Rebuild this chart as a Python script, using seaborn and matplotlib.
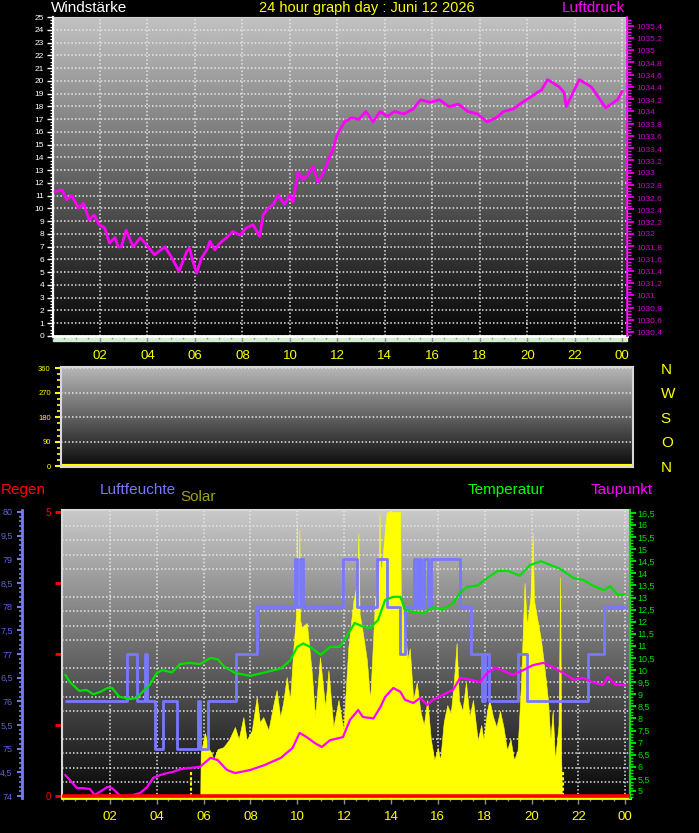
import numpy as np
import pandas as pd
import matplotlib
matplotlib.use('Agg')
import matplotlib.pyplot as plt
import seaborn as sns
from matplotlib import font_manager
from matplotlib.ticker import MultipleLocator, FixedLocator, FuncFormatter
from matplotlib.patches import Rectangle

# ===============================
# Data
# ===============================
pressure_hours = [0.1, 0.4, 0.6, 0.8, 1.1, 1.3, 1.55, 1.75, 1.97, 2.2, 2.4, 2.63, 2.77, 2.9,
                  3.1, 3.4, 3.7, 3.96, 4.3, 4.73, 5.0, 5.33, 5.65, 5.78, 5.9, 6.07, 6.28, 6.5,
                  6.63, 6.84, 7.05, 7.33, 7.6, 7.9, 8.17, 8.45, 8.73, 8.87, 9.08, 9.3, 9.5,
                  9.78, 10.0, 10.13, 10.34, 10.55, 10.76, 10.97, 11.18, 11.46, 11.67, 11.81,
                  12.0, 12.3, 12.6, 12.9, 13.2, 13.5, 13.8, 14.1, 14.4, 14.8, 15.2, 15.5,
                  15.9, 16.3, 16.7, 17.1, 17.5, 17.9, 18.3, 18.7, 19.0, 19.4, 19.8, 20.2,
                  20.5, 20.6, 20.85, 21.35, 21.55, 21.64, 22.19, 22.7, 23.3, 23.8, 24.0]
pressure_hpa = [1032.69, 1032.72, 1032.56, 1032.63, 1032.42, 1032.50, 1032.23, 1032.31,
                1032.15, 1032.10, 1031.85, 1031.94, 1031.79, 1031.79, 1032.06, 1031.79,
                1031.94, 1031.82, 1031.66, 1031.79, 1031.63, 1031.39, 1031.71, 1031.77,
                1031.57, 1031.36, 1031.61, 1031.74, 1031.88, 1031.74, 1031.85, 1031.94,
                1032.04, 1031.98, 1032.10, 1032.15, 1031.96, 1032.31, 1032.42, 1032.48,
                1032.63, 1032.48, 1032.64, 1032.52, 1033.00, 1032.89, 1032.96, 1033.10,
                1032.85, 1033.04, 1033.26, 1033.38, 1033.63, 1033.83, 1033.90, 1033.87,
                1034.00, 1033.83, 1034.00, 1033.92, 1034.00, 1033.96, 1034.04, 1034.19,
                1034.15, 1034.19, 1034.08, 1034.12, 1034.00, 1033.96, 1033.83, 1033.90,
                1034.00, 1034.04, 1034.15, 1034.25, 1034.33, 1034.35, 1034.52, 1034.40,
                1034.31, 1034.08, 1034.52, 1034.40, 1034.06, 1034.19, 1034.33]

wind_hours = [0.0, 24.2]
wind_dir_deg = [0, 0]
compass_labels = ['N', 'O', 'S', 'W', 'N']

hum_hours = [0.15, 2.75, 3.15, 3.5, 3.6, 3.93, 4.27, 4.85, 5.77, 5.85, 6.2, 7.4, 8.3, 9.9,
             10.0, 10.1, 10.25, 11.95, 12.55, 13.4, 13.85, 14.4, 14.6, 15.0, 15.1, 15.2,
             15.3, 15.4, 15.6, 15.7, 16.95, 17.4, 17.9, 18.0, 18.2, 19.4, 19.8, 22.4,
             23.1, 24.0]
hum_pct = [76, 77, 76, 77, 76, 75, 76, 75, 76, 75, 76, 77, 78, 79,
           78, 79, 78, 79, 78, 79, 78, 77, 78, 79, 78, 79,
           78, 79, 78, 79, 78, 77, 76, 77, 76, 77, 76, 77,
           78, 78]
hum_tick_labels = ['74', '4,5', '75', '5,5', '76', '6,5', '77', '7,5', '78', '8,5', '79', '9,5', '80']

temp_hours = [0.1, 0.3, 0.7, 1.0, 1.3, 1.6, 1.9, 2.1, 2.4, 2.85, 3.15, 3.4, 3.7, 4.0, 4.25,
              4.65, 5.0, 5.4, 5.85, 6.3, 6.6, 6.9, 7.35, 8.0, 8.6, 9.3, 9.7, 10.0, 10.25,
              10.55, 11.0, 11.4, 11.8, 12.1, 12.45, 12.8, 13.1, 13.45, 13.75, 14.1, 14.4,
              14.6, 14.95, 15.4, 15.8, 16.2, 16.65, 16.95, 17.25, 17.7, 18.1, 18.55, 19.0,
              19.5, 19.95, 20.4, 20.8, 21.2, 21.8, 22.2, 22.6, 23.1, 23.35, 23.7, 24.0]
temp_c = [9.8, 9.5, 9.14, 9.18, 9.0, 9.1, 9.26, 9.26, 8.9, 8.8, 8.85, 9.1, 9.38, 9.88, 10.0,
          9.9, 10.25, 10.3, 10.25, 10.5, 10.45, 10.13, 9.88, 9.76, 9.9, 10.07, 10.4, 10.96, 11.1,
          10.96, 10.63, 10.96, 10.96, 11.37, 11.95, 11.8, 11.74, 12.07, 12.9, 13.03, 13.03,
          12.5, 12.4, 12.35, 12.6, 12.5, 12.77, 13.2, 13.44, 13.5, 13.8, 14.1, 14.1,
          13.9, 14.35, 14.5, 14.35, 14.2, 13.8, 13.73, 13.5, 13.3, 13.47, 13.1, 13.13]

dew_hours = [0.1, 0.3, 0.6, 0.85, 1.15, 1.35, 1.7, 1.9, 2.1, 2.4, 2.7, 3.0, 3.3, 3.6, 3.85,
             4.15, 4.45, 4.7, 5.0, 5.4, 5.85, 6.3, 6.6, 7.0, 7.35, 8.0, 8.6, 9.3, 9.8, 10.1,
             10.4, 10.75, 11.05, 11.4, 11.95, 12.25, 12.6, 12.8, 13.25, 13.55, 13.75, 14.1,
             14.4, 14.6, 14.95, 15.25, 15.55, 15.8, 16.2, 16.65, 16.95, 17.4, 17.8, 18.1,
             18.45, 18.8, 19.2, 19.65, 20.05, 20.5, 20.9, 21.35, 21.8, 22.2, 22.6, 23.05,
             23.25, 23.6, 24.0]
dew_c = [5.66, 5.45, 5.12, 5.12, 5.08, 4.84, 5.04, 5.17, 5.12, 4.84, 4.71, 4.84, 4.92, 5.17, 5.54,
         5.66, 5.74, 5.79, 5.9, 5.95, 6.0, 6.37, 6.28, 5.87, 5.74, 5.87, 6.07, 6.37, 6.78, 7.4,
         7.23, 6.98, 6.82, 7.1, 7.23, 7.94, 8.35, 8.06, 8.0, 8.47, 8.89, 9.26,
         9.1, 8.77, 8.64, 8.85, 8.56, 8.77, 8.97, 9.18, 9.68, 9.6, 9.5, 9.88,
         10.1, 9.97, 9.8, 10.0, 10.2, 10.3, 10.13, 9.88, 9.6, 9.68, 9.5, 9.38,
         9.72, 9.38, 9.38]

solar_hours = [5.86, 5.88, 6.06, 6.2, 6.35, 6.42, 6.6, 6.85, 7.1, 7.34, 7.5, 7.7, 7.84, 8.06,
               8.27, 8.4, 8.55, 8.77, 9.0, 9.12, 9.27, 9.4, 9.55, 9.69, 9.84, 9.95, 9.98,
               10.01, 10.05, 10.09, 10.12, 10.19, 10.41, 10.62, 10.76, 10.97, 11.19, 11.33,
               11.54, 11.76, 11.97, 12.18, 12.4, 12.55, 12.61, 12.66, 12.76, 12.97, 13.11,
               13.32, 13.48, 13.51, 13.55, 13.61, 13.75, 13.82, 14.35, 14.39, 14.42, 14.5,
               14.6, 14.7, 14.8, 14.95, 15.1, 15.25, 15.4, 15.55, 15.7, 15.85, 16.0, 16.1,
               16.25, 16.4, 16.55, 16.7, 16.8, 16.9, 17.05, 17.2, 17.35, 17.5, 17.7, 17.85,
               17.95, 18.1, 18.2, 18.35, 18.5, 18.65, 18.8, 18.95, 19.1, 19.25, 19.4, 19.55,
               19.7, 19.8, 19.95, 20.05, 20.1, 20.25, 20.4, 20.55, 20.7, 20.8, 20.9, 21.0,
               21.15, 21.22, 21.26, 21.29, 21.3]
solar_wm2 = [0, 151, 222, 170, 150, 127, 165, 172, 200, 243, 200, 278, 197, 230,
             349, 260, 278, 232, 330, 373, 278, 330, 419, 338, 525, 640, 961,
             690, 690, 937, 620, 595, 609, 433, 278, 489, 313, 443,
             243, 338, 232, 525, 690, 750, 926, 640, 595, 479, 338,
             690, 800, 996, 806, 806, 950, 1000, 1000, 1000, 690, 655,
             595, 480, 520, 338, 400, 300, 250, 338, 200, 127, 170, 127,
             260, 320, 290, 420, 539, 338, 300, 400, 280, 338, 197, 250,
             197, 300, 338, 280, 243, 300, 243, 162, 200, 127, 160, 400,
             750, 600, 700, 926, 690, 620, 550, 450, 338, 197, 300, 127,
             250, 771, 150, 10, 0]
sun_times = [5.45, 21.35]

rain_hours = [0.0, 24.2]
rain_mm = [0.0, 0.0]

hour_ticks = list(range(2, 25, 2))
hour_labels = [f"{h % 24:02d}" for h in hour_ticks]

# ===============================
# Style
# ===============================
sns.set_style('dark')
names = {f.name for f in font_manager.fontManager.ttflist}
narrow = 'Liberation Sans Narrow' if 'Liberation Sans Narrow' in names else 'Liberation Sans'
plt.rcParams['font.family'] = [narrow, 'DejaVu Sans']
plt.rcParams['axes.facecolor'] = 'black'

W, H = 699, 833
fig = plt.figure(figsize=(W / 100, H / 100), dpi=100, facecolor='black')


def px_rect(x0, y0, x1, y1):
    return [x0 / W, 1 - y1 / H, (x1 - x0) / W, (y1 - y0) / H]


def ftext(x, y, s, **kw):
    fig.text(x / W, 1 - y / H, s, va='center', family=['Liberation Sans', 'DejaVu Sans'], **kw)


def comma(v, pos=None):
    s = f"{v:.1f}"
    if s.endswith('.0'):
        s = s[:-2]
    return s.replace('.', ',')


def paint_bg(ax, top, bottom):
    grad = np.linspace(top, bottom, 256).reshape(-1, 1)
    ax.imshow(grad, cmap='gray', vmin=0, vmax=1, aspect='auto', extent=(0, 1, 0, 1),
              transform=ax.transAxes, zorder=0, interpolation='bilinear')


def hide_spines(ax):
    for s in ax.spines.values():
        s.set_visible(False)


def set_family(labels, fam):
    for lbl in labels:
        lbl.set_family(fam)


dots = (0, (1, 1.4))
grid_kw = dict(color='#e6e6e6', linestyle=dots, linewidth=1.1)

# ===============================
# 1. Top panel: Luftdruck
# ===============================
ax_top = fig.add_axes(px_rect(52.5, 17, 627, 336))
paint_bg(ax_top, 0.76, 0.02)
ax_top.set_xlim(0, 24.2)
ax_top.set_ylim(0, 25)
ax_top.yaxis.set_major_locator(MultipleLocator(1))
ax_top.yaxis.set_minor_locator(MultipleLocator(0.25))
ax_top.set_xticks(hour_ticks)
ax_top.set_xticklabels(hour_labels)
ax_top.xaxis.set_minor_locator(MultipleLocator(0.5))
ax_top.tick_params(axis='y', which='major', colors='white', labelsize=6, length=4, width=1, pad=2, left=True)
ax_top.tick_params(axis='y', which='minor', colors='white', length=2.5, width=0.8, left=True)
ax_top.tick_params(axis='x', which='major', colors='#909090', labelcolor='#ffff00', labelsize=9.5,
                   length=4, width=1, pad=6, bottom=True)
ax_top.tick_params(axis='x', which='minor', colors='#909090', length=2.5, width=1, bottom=True)
set_family(ax_top.get_xticklabels(), 'Liberation Sans')
ax_top.grid(True, which='major', **grid_kw)
ax_top.set_axisbelow(True)
ax_top.spines['left'].set_color('white')
ax_top.spines['left'].set_linewidth(1.6)
ax_top.spines['bottom'].set_color('white')
ax_top.spines['bottom'].set_linewidth(2)
ax_top.spines['top'].set_color('#d0d0d0')
ax_top.spines['right'].set_color('#e8e8e8')

ax_p = ax_top.twinx()
sns.lineplot(x=pressure_hours, y=pressure_hpa, ax=ax_p, color='#ff00ff', lw=2, estimator=None)
ax_p.set_ylim(1030.335, 1035.542)
ax_p.set_xlim(0, 24.2)
ax_p.yaxis.set_major_locator(FixedLocator(np.round(np.arange(1030.4, 1035.41, 0.2), 1)))
ax_p.yaxis.set_minor_locator(MultipleLocator(0.05))
ax_p.yaxis.set_major_formatter(FuncFormatter(comma))
ax_p.tick_params(axis='y', which='major', colors='#ff00ff', labelcolor='#d000d0', labelsize=6,
                 length=5, width=1.2, pad=1.5, right=True)
ax_p.tick_params(axis='y', which='minor', colors='#ff00ff', length=3, width=1, right=True)
hide_spines(ax_p)
ax_p.spines['right'].set_visible(True)
ax_p.spines['right'].set_color('#ff00ff')
ax_p.spines['right'].set_linewidth(1.2)
ax_p.set_ylabel('')

fig.add_artist(Rectangle((52.5 / W, 1 - 341 / H), (627 - 52.5) / W, 4 / H,
                         transform=fig.transFigure, color='#d4eed4', zorder=-1))

ftext(51, 8, 'Windstärke', color='white', fontsize=11, ha='left')
ftext(367, 8, '24 hour graph day : Juni 12 2026', color='#ffff00', fontsize=10.5, ha='center')
ftext(625, 8, 'Luftdruck', color='#ff00ff', fontsize=11, ha='right')

# ===============================
# 2. Middle panel: Windrichtung
# ===============================
ax_mid = fig.add_axes(px_rect(60.5, 367, 633, 467))
paint_bg(ax_mid, 0.72, 0.04)
sns.lineplot(x=wind_hours, y=wind_dir_deg, ax=ax_mid, color='#ffff00', lw=3, estimator=None)
ax_mid.set_xlim(0, 24.2)
ax_mid.set_ylim(-2, 364)
ax_mid.set_yticks([0, 90, 180, 270, 360])
ax_mid.yaxis.set_minor_locator(MultipleLocator(22.5))
ax_mid.set_xticks([])
ax_mid.tick_params(axis='y', which='major', colors='#ffff00', labelsize=5.5, length=4, width=1.5, pad=3, left=True)
ax_mid.tick_params(axis='y', which='minor', colors='#ffff00', length=3, width=1.2, left=True)
ax_mid.grid(True, axis='y', which='major', **grid_kw)
ax_mid.grid(False, axis='x')
ax_mid.set_axisbelow(True)
for s in ax_mid.spines.values():
    s.set_color('#d8d8d8')
    s.set_linewidth(1.5)

ax_dir = ax_mid.twinx()
ax_dir.set_ylim(-2, 364)
ax_dir.set_yticks([0, 90, 180, 270, 360])
ax_dir.set_yticklabels(compass_labels)
ax_dir.tick_params(axis='y', colors='#ffff00', labelsize=11, length=0, pad=20, right=True)
set_family(ax_dir.get_yticklabels(), 'Liberation Sans')
hide_spines(ax_dir)

# ===============================
# 3. Bottom panel: Regen / Luftfeuchte / Solar / Temperatur / Taupunkt
# ===============================
ax_bot = fig.add_axes(px_rect(62, 510, 630, 798))
paint_bg(ax_bot, 0.79, 0.03)
ax_bot.set_xlim(-0.04, 24.2)
ax_bot.set_ylim(-0.035, 5.035)
ax_bot.set_yticks([0, 1.25, 2.5, 3.75, 5])
ax_bot.set_yticklabels(['0', '', '', '', '5'])
ax_bot.yaxis.set_minor_locator(MultipleLocator(0.25))
ax_bot.set_xticks(hour_ticks)
ax_bot.set_xticklabels(hour_labels)
ax_bot.xaxis.set_minor_locator(MultipleLocator(0.5))
ax_bot.tick_params(axis='y', which='major', colors='#ff0000', labelsize=7, length=5, width=2, pad=3, left=True)
ax_bot.tick_params(axis='y', which='minor', length=0)
ax_bot.tick_params(axis='x', which='major', colors='#909090', labelcolor='#ffff00', labelsize=9.5,
                   length=4, width=1, pad=5, bottom=True)
ax_bot.tick_params(axis='x', which='minor', colors='#909090', length=2.5, width=1, bottom=True)
set_family(ax_bot.get_xticklabels(), 'Liberation Sans')
ax_bot.grid(True, axis='y', which='minor', **grid_kw)
ax_bot.grid(True, axis='x', which='major', **grid_kw)
ax_bot.grid(False, axis='y', which='major')
ax_bot.set_axisbelow(True)
for s in ax_bot.spines.values():
    s.set_color('#d8d8d8')
    s.set_linewidth(1.5)
ax_bot.spines['bottom'].set_color('#ffff00')
ax_bot.spines['bottom'].set_linewidth(2)

# Solar (own hidden scale)
ax_sol = ax_bot.twinx()
ax_sol.fill_between(solar_hours, solar_wm2, color='#ffff00', lw=0.4, zorder=2)
ax_sol.vlines(sun_times, 0, 88, color='#ffff00', linestyle=(0, (1.5, 1)), lw=1.5)
ax_sol.set_ylim(-7, 1007)
ax_sol.set_yticks([])
hide_spines(ax_sol)

# Luftfeuchte (outer left axis)
ax_hum = ax_bot.twinx()
sns.lineplot(x=hum_hours, y=hum_pct, ax=ax_hum, color='#7878ff', lw=2, estimator=None,
             drawstyle='steps-post')
ax_hum.set_ylim(73.958, 80.042)
ax_hum.yaxis.set_ticks_position('left')
ax_hum.set_yticks(np.arange(74, 80.01, 0.5))
ax_hum.set_yticklabels(hum_tick_labels)
ax_hum.yaxis.set_minor_locator(MultipleLocator(0.1))
hide_spines(ax_hum)
ax_hum.spines['left'].set_visible(True)
ax_hum.spines['left'].set_position(('outward', 29))
ax_hum.spines['left'].set_color('#7878ff')
ax_hum.spines['left'].set_linewidth(2)
ax_hum.tick_params(axis='y', which='major', colors='#7878ff', labelcolor='#6060e0', labelsize=6.5,
                   length=3.5, width=1.5, pad=3, left=True, right=False)
ax_hum.tick_params(axis='y', which='minor', colors='#7878ff', length=2.5, width=1.2, left=True, right=False)
ax_hum.set_ylabel('')

# Temperatur + Taupunkt (right axis)
ax_tmp = ax_bot.twinx()
sns.lineplot(x=temp_hours, y=temp_c, ax=ax_tmp, color='#00e000', lw=1.6, estimator=None)
sns.lineplot(x=dew_hours, y=dew_c, ax=ax_tmp, color='#ff00ff', lw=1.6, estimator=None)
ax_tmp.set_ylim(4.71, 16.62)
ax_tmp.yaxis.set_major_locator(MultipleLocator(0.5))
ax_tmp.yaxis.set_minor_locator(MultipleLocator(0.125))
ax_tmp.yaxis.set_major_formatter(FuncFormatter(comma))
hide_spines(ax_tmp)
ax_tmp.spines['right'].set_visible(True)
ax_tmp.spines['right'].set_color('#00e000')
ax_tmp.spines['right'].set_linewidth(1.5)
ax_tmp.tick_params(axis='y', which='major', colors='#00e000', labelsize=6.5, length=4, width=1.4,
                   pad=1.5, right=True)
ax_tmp.tick_params(axis='y', which='minor', colors='#00e000', length=2.5, width=1, right=True)
ax_tmp.set_ylabel('')

# Regen (on top)
ax_rain = ax_bot.twinx()
sns.lineplot(x=rain_hours, y=rain_mm, ax=ax_rain, color='#ff0000', lw=2.6, estimator=None)
ax_rain.set_ylim(-0.035, 5.035)
ax_rain.set_yticks([])
hide_spines(ax_rain)
ax_rain.set_ylabel('')

for a in (ax_sol, ax_hum, ax_tmp, ax_rain):
    a.set_xlim(-0.04, 24.2)

ftext(1, 490, 'Regen', color='#ff0000', fontsize=11, ha='left')
ftext(100, 490, 'Luftfeuchte', color='#7878ff', fontsize=11, ha='left')
ftext(180, 497, 'Solar', color='#a0a020', fontsize=11, ha='left')
ftext(468, 490, 'Temperatur', color='#00ff00', fontsize=11, ha='left')
ftext(591, 490, 'Taupunkt', color='#ff00ff', fontsize=11, ha='left')

fig.savefig('out.png', dpi=100, facecolor='black')
